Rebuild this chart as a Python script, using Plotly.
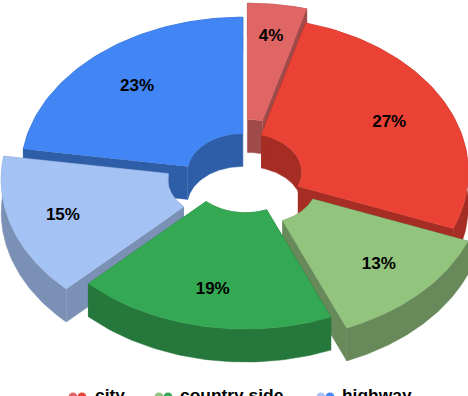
import math
import plotly.graph_objects as go

# data
slice_values = [4.3, 26.6, 12.8, 18.8, 14.9, 22.6]
slice_colors = ["#e06666", "#ea4335", "#93c47d", "#34a853", "#a4c2f4", "#4285f4"]
wall_colors = ["#a04a4a", "#a52d24", "#68895a", "#26773b", "#7a90b4", "#2f5ea9"]
legend_names = ["city", "country side", "highway"]
legend_colors = [["#e06666", "#ea4335"], ["#93c47d", "#34a853"], ["#a4c2f4", "#4285f4"]]

# style / geometry
explode = [18, 6, 17, -2, 24, 5]
nudge_x = [0, -4, 4, 0, 1, 1]
nudge_y = [0, -1, -3, 0, -4, 0]
label_r = [0.79, 0.72, 0.74, 0.76, 0.76, 0.73]
base = (245, 176)
RX, RY = 222, 155
HOLE = 0.25
DEPTH = 33
draw_order = [0, 5, 1, 4, 2, 3]
legend_dot_x = [(73, 82), (159, 168), (321, 330)]
legend_text_x = [95, 180, 342]
LEGEND_Y = 397
CANVAS_H = 430  # the window shows the top 396 px, cutting the legend as in the reference


def arc(cx, cy, rx, ry, a0, a1, n=60):
    pts = []
    for i in range(n + 1):
        a = math.radians(a0 + (a1 - a0) * i / n)
        pts.append((cx + rx * math.sin(a), cy - ry * math.cos(a)))
    return pts


def poly(fig, pts, color):
    fig.add_trace(go.Scatter(
        x=[p[0] for p in pts], y=[p[1] for p in pts], mode="lines",
        fill="toself", fillcolor=color, line=dict(color=color, width=0.5),
        hoverinfo="skip", showlegend=False))


def shift(pts, d=DEPTH):
    return [(x, y + d) for x, y in pts]


fig = go.Figure()
total = sum(slice_values)
angles = [0]
for v in slice_values:
    angles.append(angles[-1] + v / total * 360)

label_x, label_y, label_t = [], [], []
for i in draw_order:
    a0, a1 = angles[i], angles[i + 1]
    mid = math.radians((a0 + a1) / 2)
    cx = base[0] + explode[i] * math.sin(mid) + nudge_x[i]
    cy = base[1] - explode[i] * math.cos(mid) + nudge_y[i]
    outer = arc(cx, cy, RX, RY, a0, a1)
    inner = arc(cx, cy, RX * HOLE, RY * HOLE, a0, a1)
    wall = wall_colors[i]
    poly(fig, inner + shift(inner)[::-1], wall)
    poly(fig, [inner[0], outer[0], shift(outer)[0], shift(inner)[0]], wall)
    poly(fig, [inner[-1], outer[-1], shift(outer)[-1], shift(inner)[-1]], wall)
    poly(fig, outer + shift(outer)[::-1], wall)
    poly(fig, outer + inner[::-1], slice_colors[i])
    label_x.append(cx + label_r[i] * RX * math.sin(mid))
    label_y.append(cy - label_r[i] * RY * math.cos(mid))
    label_t.append(f"{round(slice_values[i] / total * 100)}%")

font = dict(family="Liberation Sans, Arial, sans-serif", size=17, color="#000000")
fig.add_trace(go.Scatter(x=label_x, y=label_y, text=[f"<b>{t}</b>" for t in label_t],
                         mode="text", textposition="middle center", textfont=font,
                         hoverinfo="skip", showlegend=False))

for name, cols, dots, tx in zip(legend_names, legend_colors, legend_dot_x, legend_text_x):
    fig.add_trace(go.Scatter(x=list(dots), y=[LEGEND_Y] * 2, mode="markers",
                             marker=dict(size=9, color=cols),
                             hoverinfo="skip", showlegend=False))
    fig.add_trace(go.Scatter(x=[tx], y=[LEGEND_Y], text=[f"<b>{name}</b>"], mode="text",
                             textposition="middle right",
                             textfont=dict(family="Liberation Sans, Arial, sans-serif",
                                           size=17.4, color="#000000"),
                             hoverinfo="skip", showlegend=False))

fig.update_layout(
    width=468, height=CANVAS_H, margin=dict(l=0, r=0, t=0, b=0),
    paper_bgcolor="white", plot_bgcolor="white", showlegend=False,
    xaxis=dict(range=[0, 468], visible=False, fixedrange=True),
    yaxis=dict(range=[CANVAS_H, 0], visible=False, fixedrange=True),
)
fig.write_html("out.html", config={"displayModeBar": False},
               post_script="document.body.style.margin='0';document.documentElement.style.overflow='hidden';document.body.style.overflow='hidden';")
